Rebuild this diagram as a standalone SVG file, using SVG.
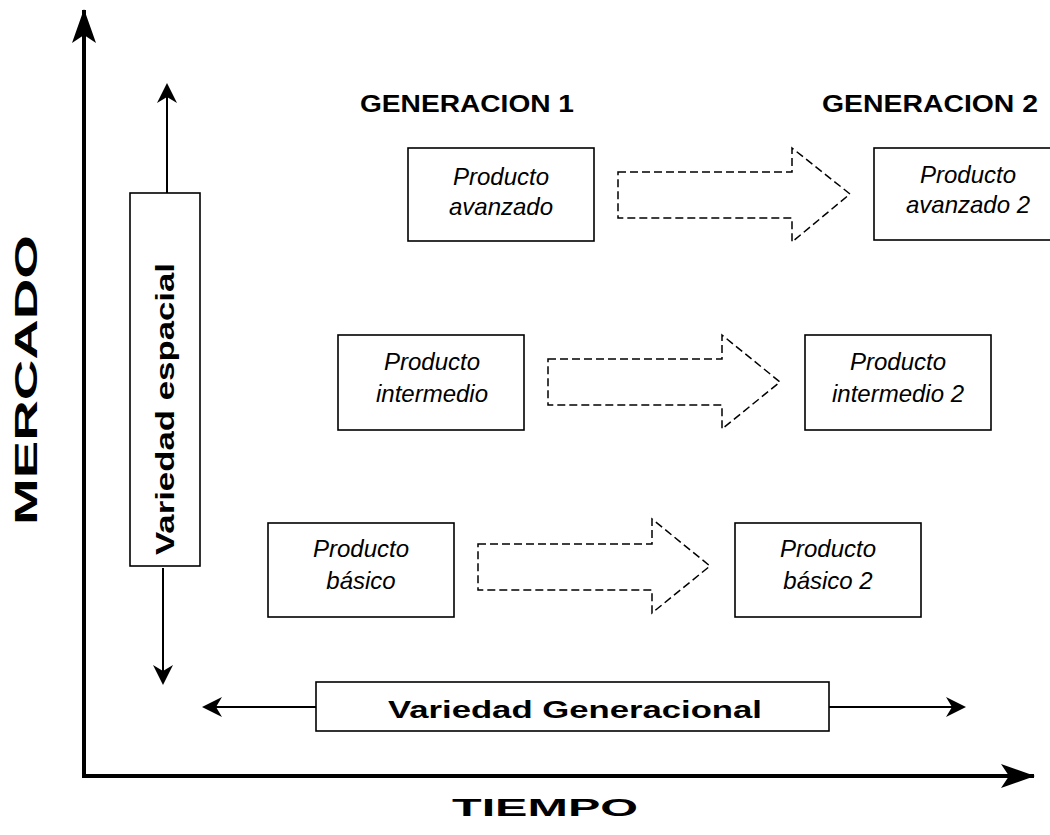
<svg xmlns="http://www.w3.org/2000/svg" width="1050" height="835" viewBox="0 0 1050 835">
<style>
  .box { fill: #fff; stroke: #000; stroke-width: 1.6; }
  .dash { fill: none; stroke: #000; stroke-width: 1.5; stroke-dasharray: 8 4; }
  .axis { stroke: #000; stroke-width: 4; fill: none; }
  .thin { stroke: #000; stroke-width: 2; fill: none; }
  .prod { font-family: "Liberation Sans", Arial, sans-serif; font-style: italic; font-size: 24px; text-anchor: middle; fill: #000; }
  .bold { font-family: "Liberation Sans", Arial, sans-serif; font-weight: bold; fill: #000; }
</style>
<defs>
  <marker id="big" viewBox="0 0 34 24" refX="33" refY="12" markerWidth="34" markerHeight="24" markerUnits="userSpaceOnUse" orient="auto">
    <path d="M0,0 L34,12 L0,24 L8,12 z" fill="#000"/>
  </marker>
  <marker id="small" viewBox="0 0 20 20" refX="18" refY="10" markerWidth="20" markerHeight="20" markerUnits="userSpaceOnUse" orient="auto">
    <path d="M0,0 L20,10 L0,20 L6,10 z" fill="#000"/>
  </marker>
</defs>
<rect width="1050" height="835" fill="#fff"/>

<g id="connectors">
  <line class="axis" x1="84" y1="778" x2="84" y2="10" marker-end="url(#big)"/>
  <line class="axis" x1="82" y1="776" x2="1034" y2="776" marker-end="url(#big)"/>
  <line class="thin" x1="167" y1="193" x2="167" y2="85" marker-end="url(#small)"/>
  <line class="thin" x1="163" y1="568" x2="163" y2="683" marker-end="url(#small)"/>
  <line class="thin" x1="316" y1="707" x2="204" y2="707" marker-end="url(#small)"/>
  <line class="thin" x1="829" y1="707" x2="964" y2="707" marker-end="url(#small)"/>
  <path class="dash" d="M618,172 H792 V148 L850,194 L792,242 V218 H618 Z"/>
  <path class="dash" d="M548,359 H722 V335 L780,382 L722,429 V405 H548 Z"/>
  <path class="dash" d="M478,544 H652 V519 L710,566 L652,613 V590 H478 Z"/>
</g>

<g id="axis-labels">
  <text class="bold" font-size="31" text-anchor="middle" textLength="290" lengthAdjust="spacingAndGlyphs" transform="translate(37,380) rotate(-90)">MERCADO</text>
  <text class="bold" font-size="24" x="452" y="816" textLength="186" lengthAdjust="spacingAndGlyphs">TIEMPO</text>
  <text class="bold" font-size="23" x="360" y="112" textLength="214" lengthAdjust="spacingAndGlyphs">GENERACION 1</text>
  <text class="bold" font-size="23" x="822" y="112" textLength="216" lengthAdjust="spacingAndGlyphs">GENERACION 2</text>
</g>

<g id="variedad-espacial">
  <rect class="box" x="130" y="193" width="70" height="373"/>
  <text class="bold" font-size="26" text-anchor="middle" textLength="292" lengthAdjust="spacingAndGlyphs" transform="translate(174,409) rotate(-90)">Variedad espacial</text>
</g>

<g id="variedad-generacional">
  <rect class="box" x="316" y="682" width="513" height="49"/>
  <text class="bold" font-size="24" x="388" y="718" textLength="374" lengthAdjust="spacingAndGlyphs">Variedad Generacional</text>
</g>

<g id="producto-avanzado">
  <rect class="box" x="408" y="148" width="186" height="93"/>
  <text class="prod" x="501" y="185">Producto</text>
  <text class="prod" x="501" y="215">avanzado</text>
</g>
<g id="producto-avanzado-2">
  <rect class="box" x="874" y="148" width="190" height="92"/>
  <text class="prod" x="968" y="183">Producto</text>
  <text class="prod" x="968" y="213">avanzado 2</text>
</g>
<g id="producto-intermedio">
  <rect class="box" x="338" y="335" width="186" height="95"/>
  <text class="prod" x="432" y="370">Producto</text>
  <text class="prod" x="432" y="402">intermedio</text>
</g>
<g id="producto-intermedio-2">
  <rect class="box" x="805" y="335" width="186" height="95"/>
  <text class="prod" x="898" y="370">Producto</text>
  <text class="prod" x="898" y="402">intermedio 2</text>
</g>
<g id="producto-basico">
  <rect class="box" x="268" y="523" width="186" height="94"/>
  <text class="prod" x="361" y="557">Producto</text>
  <text class="prod" x="361" y="589">básico</text>
</g>
<g id="producto-basico-2">
  <rect class="box" x="735" y="523" width="186" height="94"/>
  <text class="prod" x="828" y="557">Producto</text>
  <text class="prod" x="828" y="589">básico 2</text>
</g>
</svg>
